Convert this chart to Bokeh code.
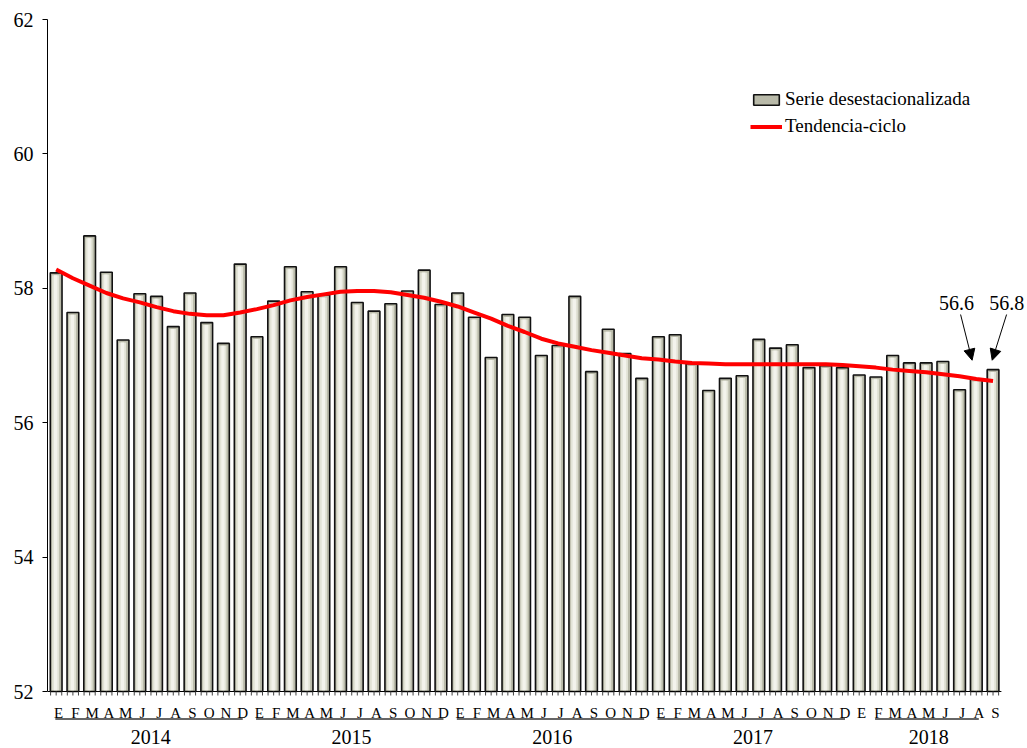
import numpy as np
from bokeh.plotting import figure
from bokeh.models import Range1d, FixedTicker, Legend, LegendItem, Arrow, NormalHead, ColumnDataSource
from bokeh.core.properties import value
from bokeh.embed import file_html
from bokeh.resources import INLINE

# ---------------- data ----------------
months = ["E", "F", "M", "A", "M", "J", "J", "A", "S", "O", "N", "D"]
years = ["2014", "2015", "2016", "2017", "2018"]
months_per_year = [12, 12, 12, 12, 9]
underline_first = [1, 1, 1, 1, 2]     # month (within year) where the underline starts
underline_last = [12, 12, 12, 12, 8]  # month (within year) where the underline ends

serie = [58.23, 57.64, 58.78, 58.24, 57.23, 57.92, 57.88, 57.43, 57.93, 57.49, 57.18, 58.36,
         57.28, 57.81, 58.32, 57.95, 57.90, 58.32, 57.79, 57.66, 57.77, 57.96, 58.27, 57.76,
         57.93, 57.57, 56.97, 57.61, 57.57, 57.00, 57.15, 57.88, 56.76, 57.39, 57.03, 56.66,
         57.28, 57.31, 56.88, 56.48, 56.66, 56.70, 57.24, 57.11, 57.16, 56.82, 56.85, 56.82,
         56.71, 56.68, 57.00, 56.89, 56.89, 56.91, 56.49, 56.65, 56.79]

tendencia = [58.28, 58.15, 58.04, 57.93, 57.85, 57.79, 57.72, 57.66, 57.62, 57.60, 57.60, 57.64,
             57.69, 57.75, 57.82, 57.87, 57.91, 57.95, 57.96, 57.96, 57.94, 57.90, 57.86, 57.80,
             57.73, 57.64, 57.55, 57.44, 57.35, 57.25, 57.18, 57.13, 57.08, 57.04, 57.00, 56.96,
             56.94, 56.91, 56.89, 56.88, 56.87, 56.87, 56.87, 56.87, 56.87, 56.87, 56.87, 56.86,
             56.84, 56.82, 56.79, 56.77, 56.75, 56.72, 56.69, 56.65, 56.62]

callout_idx = [56, 57]
callout_text = ["56.6", "56.8"]

y_ticks = [52, 54, 56, 58, 60, 62]

# ---------------- layout constants ----------------
W, H = 1027, 748
LEFT = 47
XR = (0.482, 59.06)
YR = (51.152, 62.283)
PXY = H / (YR[1] - YR[0])                 # px per y unit
FONT = "Liberation Serif"

n = len(serie)
x = np.arange(1, n + 1)
serie_a = np.array(serie)
month_labels = [months[i % 12] for i in range(n)]
ybase = y_ticks[0]

p = figure(width=W, height=H, x_range=Range1d(*XR), y_range=Range1d(*YR),
           output_backend="svg", toolbar_location=None, x_axis_location=None,
           min_border_left=LEFT, min_border_right=0, min_border_top=0, min_border_bottom=0)
p.outline_line_color = None
p.grid.visible = False
p.background_fill_color = "white"

ax = p.yaxis[0]
ax.ticker = FixedTicker(ticks=y_ticks)
ax.bounds = (y_ticks[0], y_ticks[-1])
ax.major_tick_out = 5
ax.major_tick_in = 0
ax.minor_tick_out = 0
ax.minor_tick_in = 0
ax.major_label_standoff = 9
ax.axis_line_color = "black"
ax.major_tick_line_color = "black"
ax.major_label_text_font = FONT
ax.major_label_text_font_size = "20px"
ax.major_label_text_color = "black"

# bars (with a light inner highlight to mimic the shaded look)
bars = p.vbar(x=x, top=serie_a, bottom=ybase, width=0.7,
              fill_color="#b9baa9", line_color="#111111", line_width=1.6)
p.vbar(x=x - 0.03, top=serie_a - 0.035, bottom=ybase + 0.02, width=0.42,
       fill_color="#e2e3d6", line_color=None)
p.vbar(x=x - 0.03, top=serie_a - 0.035, bottom=ybase + 0.02, width=0.2,
       fill_color="#f3f3ec", line_color=None)

# trend line
trend = p.line(x=x, y=tendencia, line_color="#ff0000", line_width=4)

# bottom axis line and ticks
p.segment(x0=[x[0] - 0.5], y0=[ybase], x1=[x[-1] + 0.5], y1=[ybase], line_color="black", line_width=1)
tick_x = np.concatenate([x + k / 3.0 for k in (-1, 0, 1)])
p.segment(x0=tick_x, y0=ybase, x1=tick_x, y1=ybase - 4 / PXY, line_color="#444444", line_width=1)

# month letters
p.text(x=x, y=ybase - 21 / PXY, text=month_labels, text_align="center", text_baseline="middle",
       x_offset=2.5, text_font=value(FONT), text_font_size="15px", text_color="black")

# year underlines and labels
starts = np.cumsum([0] + months_per_year[:-1]) + 1
ul_x0 = [s + f - 1 - 0.05 for s, f in zip(starts, underline_first)]
ul_x1 = [s + l - 1 + 0.15 for s, l in zip(starts, underline_last)]
p.segment(x0=ul_x0, y0=ybase - 27.5 / PXY, x1=ul_x1, y1=ybase - 27.5 / PXY,
          line_color="#333333", line_width=1.3)
year_x = [s + (m - 1) / 2.0 + 0.15 for s, m in zip(starts, months_per_year)]
p.text(x=year_x, y=ybase - 45 / PXY, text=years, text_align="center", text_baseline="middle",
       text_font=value(FONT), text_font_size="20px", text_color="black")

# call-outs
tip_y = max(serie_a[np.array(callout_idx) - 1]) + 0.14
text_dx = [-1.19, 0.82]
start_dx = [-0.94, 0.81]
tip_dx = [-0.25, -0.05]
ci = np.array(callout_idx, dtype=float)
p.text(x=ci + np.array(text_dx), y=[tip_y + 0.85] * len(ci), text=callout_text,
       text_align="center", text_baseline="middle",
       text_font=value(FONT), text_font_size="20px", text_color="black")
arrow_src = ColumnDataSource(dict(xs=ci + np.array(start_dx), ys=[tip_y + 0.68] * len(ci),
                                  xe=ci + np.array(tip_dx), ye=[tip_y] * len(ci)))
p.add_layout(Arrow(x_start="xs", y_start="ys", x_end="xe", y_end="ye", source=arrow_src,
                   line_color="black", line_width=1,
                   end=NormalHead(size=11, fill_color="black", line_color="black")))

# legend
legend = Legend(items=[LegendItem(label="Serie desestacionalizada", renderers=[bars]),
                       LegendItem(label="Tendencia-ciclo", renderers=[trend])],
                location=(703, 611), orientation="vertical",
                glyph_width=32, glyph_height=13, label_height=20, label_standoff=3, spacing=5,
                padding=0, margin=0, border_line_color=None, background_fill_alpha=0,
                label_text_font=FONT, label_text_font_size="19px", label_text_color="black")
p.add_layout(legend)

open("out.html", "w").write(file_html(p, INLINE))
